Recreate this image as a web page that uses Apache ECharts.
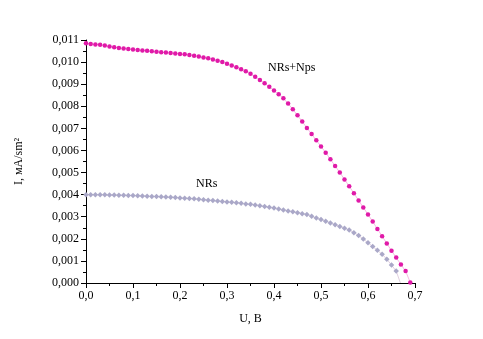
<!DOCTYPE html>
<html>
<head>
<meta charset="utf-8">
<script src="https://cdn.jsdelivr.net/npm/echarts@6/dist/echarts.min.js"></script>
<style>html,body{margin:0;padding:0;background:#fff;}#c{width:483px;height:339px;}</style>
</head>
<body>
<div id="c"></div>
<script>
var uNps = [0.00,0.01,0.02,0.03,0.04,0.05,0.06,0.07,0.08,0.09,0.10,0.11,0.12,0.13,0.14,0.15,0.16,0.17,0.18,0.19,0.20,0.21,0.22,0.23,0.24,0.25,0.26,0.27,0.28,0.29,0.30,0.31,0.32,0.33,0.34,0.35,0.36,0.37,0.38,0.39,0.40,0.41,0.42,0.43,0.44,0.45,0.46,0.47,0.48,0.49,0.50,0.51,0.52,0.53,0.54,0.55,0.56,0.57,0.58,0.59,0.60,0.61,0.62,0.63,0.64,0.65,0.66,0.67,0.68,0.69];
var iNps = [0.01085,0.01082,0.01080,0.01078,0.01075,0.01071,0.01067,0.01064,0.01062,0.01059,0.01057,0.01055,0.01053,0.01051,0.01049,0.01047,0.01045,0.01043,0.01041,0.01039,0.01037,0.01035,0.01032,0.01029,0.01025,0.01021,0.01017,0.01012,0.01006,0.01000,0.00993,0.00985,0.00977,0.00968,0.00958,0.00947,0.00934,0.00919,0.00904,0.00888,0.00871,0.00854,0.00836,0.00812,0.00786,0.00759,0.00731,0.00702,0.00674,0.00646,0.00618,0.00590,0.00560,0.00530,0.00500,0.00469,0.00438,0.00406,0.00374,0.00342,0.00310,0.00278,0.00245,0.00212,0.00179,0.00146,0.00115,0.00084,0.00054,0.00002];
var uNRs = [0.00,0.01,0.02,0.03,0.04,0.05,0.06,0.07,0.08,0.09,0.10,0.11,0.12,0.13,0.14,0.15,0.16,0.17,0.18,0.19,0.20,0.21,0.22,0.23,0.24,0.25,0.26,0.27,0.28,0.29,0.30,0.31,0.32,0.33,0.34,0.35,0.36,0.37,0.38,0.39,0.40,0.41,0.42,0.43,0.44,0.45,0.46,0.47,0.48,0.49,0.50,0.51,0.52,0.53,0.54,0.55,0.56,0.57,0.58,0.59,0.60,0.61,0.62,0.63,0.64,0.65,0.66,0.669];
var iNRs = [0.00400,0.00400,0.00400,0.00399,0.00399,0.00398,0.00398,0.00397,0.00397,0.00396,0.00396,0.00395,0.00394,0.00393,0.00392,0.00391,0.00390,0.00389,0.00388,0.00387,0.00385,0.00384,0.00382,0.00381,0.00379,0.00377,0.00375,0.00373,0.00371,0.00369,0.00367,0.00365,0.00363,0.00361,0.00358,0.00356,0.00353,0.00350,0.00346,0.00343,0.00339,0.00335,0.00330,0.00326,0.00322,0.00318,0.00314,0.00310,0.00302,0.00294,0.00287,0.00280,0.00272,0.00264,0.00256,0.00248,0.00240,0.00228,0.00215,0.00199,0.00182,0.00165,0.00148,0.00130,0.00108,0.00081,0.00054,0.00000];
var xTicks = ['0,0','0,1','0,2','0,3','0,4','0,5','0,6','0,7'];
var nameNps = 'NRs+Nps';
var nameNRs = 'NRs';
var xName = 'U, B';
var yName = 'I, мA/sm²';

var font = 'Liberation Serif';
var chart = echarts.init(document.getElementById('c'), null, {renderer: 'canvas'});
function pairs(u, v) { return u.map(function (x, k) { return [x, v[k]]; }); }
var nrsData = pairs(uNRs, iNRs);
nrsData[nrsData.length - 1] = {value: nrsData[nrsData.length - 1], symbolSize: 0};
var axisCommon = {
  axisLine: {show: true, lineStyle: {color: '#000', width: 1}},
  axisTick: {show: true, inside: false, length: 5, lineStyle: {color: '#000'}},
  minorTick: {show: true, splitNumber: 2, length: 3, lineStyle: {color: '#000'}},
  splitLine: {show: false},
  nameTextStyle: {fontFamily: font, fontSize: 12, color: '#000'}
};
chart.setOption({
  animation: false,
  backgroundColor: '#fff',
  grid: {left: 86, right: 68, top: 40, bottom: 56},
  xAxis: Object.assign({
    type: 'value', min: 0, max: 0.7, interval: 0.1,
    name: xName, nameLocation: 'middle', nameGap: 30,
    axisLabel: {fontFamily: font, fontSize: 12, color: '#000', margin: 7,
      formatter: function (v) { return xTicks[Math.round(v * 10)]; }}
  }, axisCommon),
  yAxis: Object.assign({
    type: 'value', min: 0, max: 0.011, interval: 0.001,
    name: yName, nameLocation: 'middle', nameGap: 61,
    axisLabel: {fontFamily: font, fontSize: 12, color: '#000', margin: 7,
      formatter: function (v) { return v.toFixed(3).replace('.', ','); }}
  }, axisCommon),
  series: [
    {type: 'line', data: pairs(uNps, iNps), symbol: 'circle', symbolSize: 4.5, showSymbol: true,
     lineStyle: {color: '#f4a6dc', width: 0.8}, itemStyle: {color: '#e01aa8', borderWidth: 0}},
    {type: 'line', data: nrsData, symbol: 'diamond', symbolSize: 5.5, showSymbol: true,
     lineStyle: {color: '#d8c4d8', width: 0.8}, itemStyle: {color: '#aaa8c8', borderWidth: 0}}
  ],
  graphic: [
    {type: 'text', left: 268, top: 62, style: {text: nameNps, fontFamily: font, fontSize: 12, fill: '#000'}},
    {type: 'text', left: 196, top: 178, style: {text: nameNRs, fontFamily: font, fontSize: 12, fill: '#000'}}
  ]
});
</script>
</body>
</html>
